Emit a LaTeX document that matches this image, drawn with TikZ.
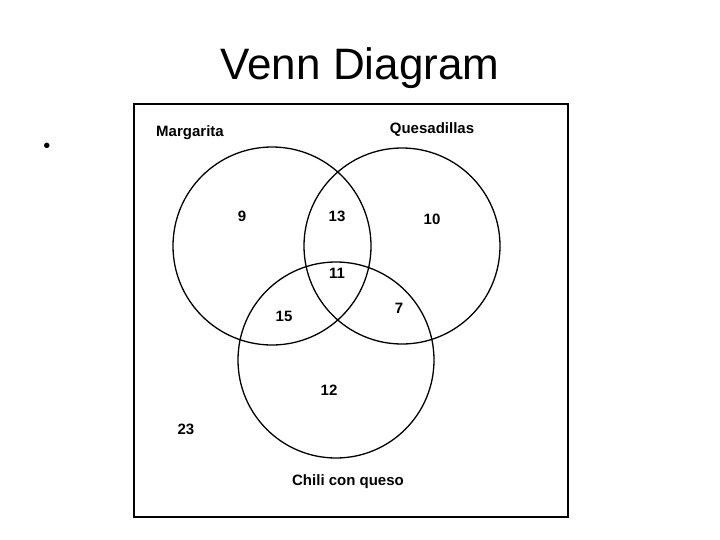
\documentclass[tikz,border=0pt]{standalone}
\usepackage{fontspec}
\setmainfont{Liberation Sans}
\begin{document}
\begin{tikzpicture}[x=1pt,y=-1pt,
  circ/.style={draw,line width=1.3pt},
  lab/.style={font=\fontsize{15}{17}\selectfont\bfseries}]
\useasboundingbox (0,0) rectangle (720,540);
\node (title) at (360,68) {\fontsize{44}{48}\selectfont Venn Diagram};
\node (bullet) at (47,148) {\fontsize{20}{22}\selectfont\textbullet};
\draw[line width=1.5pt] (134,104) rectangle (568,517);
\draw[circ] (272,246) circle (99);
\draw[circ] (402,246) circle (98);
\draw[circ] (336,360) circle (98);
\node[lab] (m) at (190,133) {Margarita};
\node[lab] (q) at (432,130) {Quesadillas};
\node[lab] (c) at (348,482) {Chili con queso};
\node[lab] (n9) at (242,216) {9};
\node[lab] (n13) at (337,216) {13};
\node[lab] (n10) at (432,219) {10};
\node[lab] (n11) at (337,273) {11};
\node[lab] (n7) at (399,308) {7};
\node[lab] (n15) at (284,316) {15};
\node[lab] (n12) at (329,390) {12};
\node[lab] (n23) at (186,429) {23};
\end{tikzpicture}
\end{document}
